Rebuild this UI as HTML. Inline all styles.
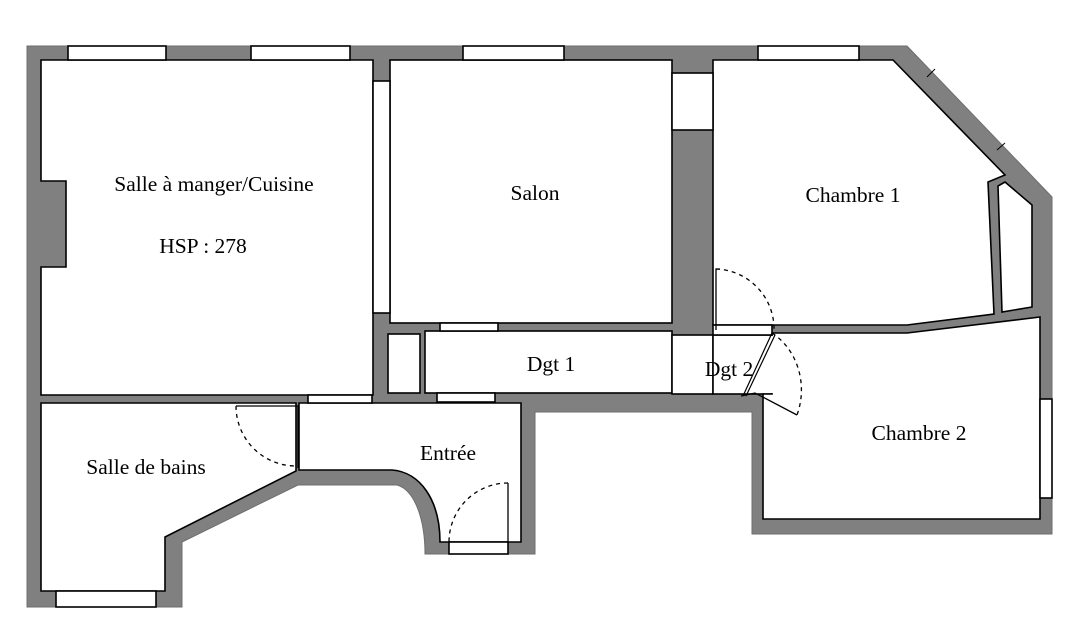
<!DOCTYPE html>
<html><head><meta charset="utf-8"><style>
html,body{margin:0;padding:0;background:#fff;}
svg{display:block;}
text{font-family:"Liberation Serif",serif;font-size:21.5px;fill:#000;text-anchor:middle;}
</style></head><body>
<svg width="1088" height="628" viewBox="0 0 1088 628" xmlns="http://www.w3.org/2000/svg">
<rect width="1088" height="628" fill="#fff"/>
<path d="M27,46 L907,46 L1052,197 L1052,534 L752,534 L752,412 L535,412 L535,554 L425,554 C425,520 415,490 397,485 L298,485 L182,542 L182,607 L27,607 Z" fill="#808080" stroke="#6e6e6e" stroke-width="1"/>
<g fill="#fff" stroke="#000" stroke-width="1.6">
<path d="M41,60 L373,60 L373,395 L41,395 L41,267 L66,267 L66,181 L41,181 Z"/>
<path d="M41,403 L296,403 L296,471 L165,537 L165,591 L41,591 Z"/>
<path d="M299,403 L521,403 L521,542 L440,542 C440,500 420,472 392,470 L299,470 Z"/>
<rect x="390" y="60" width="282" height="263"/>
<rect x="388" y="334" width="32" height="59"/>
<rect x="425" y="331" width="247" height="62"/>
<rect x="672" y="335" width="41" height="59"/>
<rect x="713" y="335" width="59" height="59"/>
<path d="M713,60 L893,60 L1005,175 L988,182 L994,314 L907,325 L713,325 Z"/>
<path d="M1005,182 L1032,205 L1032,307 L1002,312 L998,186 Z"/>
<path d="M772,333 L907,333 L1040,317 L1040,519 L763,519 L763,394 L772,394 Z"/>
<rect x="68" y="46" width="98" height="14"/>
<rect x="251" y="46" width="99" height="14"/>
<rect x="463" y="46" width="101" height="14"/>
<rect x="758" y="46" width="101" height="14"/>
<rect x="672" y="73" width="41" height="57"/>
<rect x="373" y="81" width="17" height="232"/>
<rect x="440" y="323" width="58" height="8"/>
<rect x="437" y="393" width="58" height="9"/>
<rect x="308" y="395" width="64" height="8"/>
<rect x="56" y="591" width="100" height="16"/>
<rect x="449" y="542" width="59" height="12"/>
<rect x="1040" y="399" width="12" height="99"/>
<rect x="713" y="325" width="59" height="10"/>
</g>
<rect x="764" y="336" width="10" height="57" fill="#fff"/>
<g fill="none" stroke="#000" stroke-width="1.3">
<path d="M236,406 L298,406 L298,468"/>
<path d="M236,406 A60,60 0 0 0 296,466" stroke-dasharray="4,4"/>
<path d="M716,330 L716,269 L720,269"/>
<path d="M716,269 A60,60 0 0 1 774,330" stroke-dasharray="4,4"/>
<path d="M508,483 L508,542"/>
<path d="M508,483 A59,59 0 0 0 449,542" stroke-dasharray="4,4"/>
<path d="M772,333 L743,396 M775,335 L746,396" stroke-width="1.2"/>
<path d="M741,396 L755,393 L797,415"/>
<path d="M772,333 C798,350 808,385 797,415" stroke-dasharray="4,4"/>
<path d="M927,77 L935,69 M997,150 L1005,143" stroke-width="1"/>
</g>
<text x="214" y="191">Salle à manger/Cuisine</text>
<text x="203" y="253">HSP : 278</text>
<text x="535" y="200">Salon</text>
<text x="853" y="202">Chambre 1</text>
<text x="551" y="371">Dgt 1</text>
<text x="729" y="376">Dgt 2</text>
<text x="448" y="460">Entrée</text>
<text x="146" y="474">Salle de bains</text>
<text x="919" y="440">Chambre 2</text>
</svg>
</body></html>
